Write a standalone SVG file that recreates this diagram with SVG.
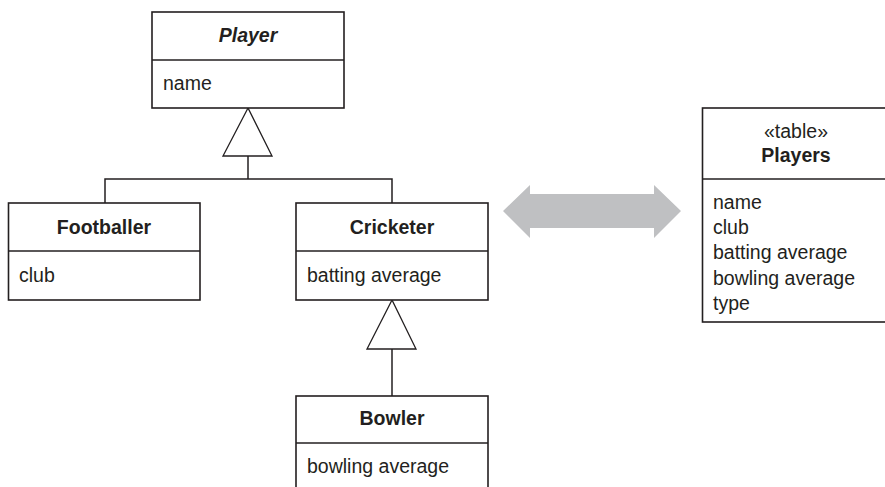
<svg xmlns="http://www.w3.org/2000/svg" width="885" height="487" viewBox="0 0 885 487">
<style>
.box{fill:#fff;stroke:#231f20;stroke-width:1.6}
.ln{fill:none;stroke:#231f20;stroke-width:1.5}
.tri{fill:#fff;stroke:#231f20;stroke-width:1.3}
text{font-family:"Liberation Sans",Arial,sans-serif;font-size:19.5px;fill:#231f20}
.t{font-weight:bold;text-anchor:middle}
.c{text-anchor:middle}
</style>
<rect width="885" height="487" fill="#fff"/>
<g id="connectors">
<polyline class="ln" points="105,203 105,179 392,179 392,203"/>
<line class="ln" x1="248" y1="156" x2="248" y2="179"/>
<polygon class="tri" points="248,108 223,156 272,156"/>
<line class="ln" x1="392" y1="349" x2="392" y2="396"/>
<polygon class="tri" points="392,300 367,349 416,349"/>
<polygon id="mapping" fill="#bfc0c2" points="503,211 530,185 530,194 654,194 654,185 681,211 654,238 654,228 530,228 530,238"/>
</g>
<g id="player">
<rect class="box" x="152" y="12" width="192" height="96"/>
<line class="ln" x1="152" y1="60" x2="344" y2="60"/>
<text class="t" x="248" y="42" font-style="italic">Player</text>
<text x="163" y="90">name</text>
</g>
<g id="footballer">
<rect class="box" x="8.5" y="203" width="191.5" height="97"/>
<line class="ln" x1="8.5" y1="251" x2="200" y2="251"/>
<text class="t" x="104" y="234">Footballer</text>
<text x="19" y="282">club</text>
</g>
<g id="cricketer">
<rect class="box" x="296" y="203" width="192" height="97"/>
<line class="ln" x1="296" y1="251" x2="488" y2="251"/>
<text class="t" x="392" y="234">Cricketer</text>
<text x="307" y="282">batting average</text>
</g>
<g id="bowler">
<rect class="box" x="296" y="396" width="192" height="100"/>
<line class="ln" x1="296" y1="443" x2="488" y2="443"/>
<text class="t" x="392" y="425">Bowler</text>
<text x="307" y="473">bowling average</text>
</g>
<g id="players">
<rect class="box" x="702.5" y="108" width="190" height="214"/>
<line class="ln" x1="702.5" y1="179" x2="885" y2="179"/>
<text class="c" x="796" y="138">«table»</text>
<text class="t" x="796" y="162">Players</text>
<text x="713" y="209">name</text>
<text x="713" y="234">club</text>
<text x="713" y="259">batting average</text>
<text x="713" y="285">bowling average</text>
<text x="713" y="310">type</text>
</g>
</svg>
